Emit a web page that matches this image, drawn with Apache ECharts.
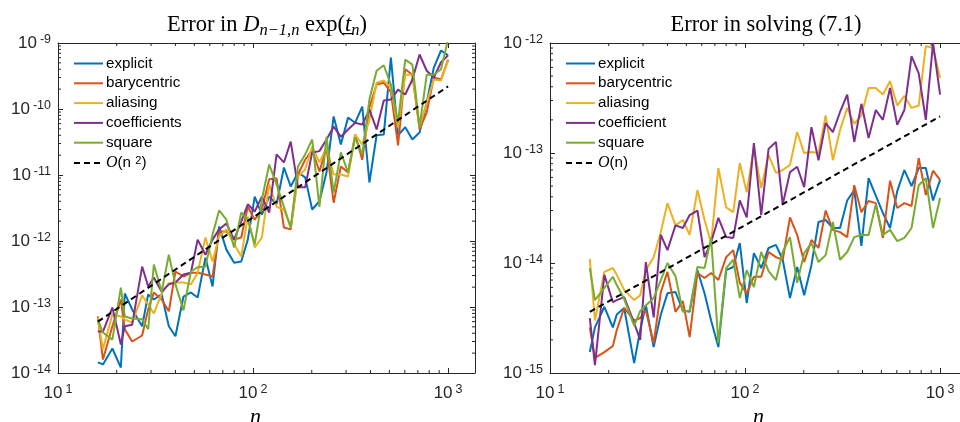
<!DOCTYPE html>
<html>
<head>
<meta charset="utf-8">
<script src="https://cdn.jsdelivr.net/npm/echarts@6/dist/echarts.min.js"></script>
<style>
  html, body { margin: 0; padding: 0; background: #fff; }
  #chart { width: 960px; height: 422px; }
</style>
</head>
<body>
<div id="chart"></div>
<script>
// 横轴 n
const nValues = [16, 17, 19, 21, 22, 24, 27, 29, 31, 34, 37, 40, 44, 48, 52, 57, 62, 67, 73, 80,
    87, 94, 102, 111, 121, 132, 144, 156, 170, 185, 201, 219, 238, 259, 282, 307, 334, 363, 395, 430,
    468, 509, 554, 603, 656, 714, 777, 845, 920, 1000];

// 左图: Error in D exp(t)
const explicitL = [1.45e-14, 1.35e-14, 2.35e-14, 1.21e-14, 1.6e-13, 9.2e-14, 5.1e-14, 1.55e-13, 1.3e-13, 1.55e-13,
    5.1e-14, 3.6e-14, 1.44e-13, 1.66e-13, 1.39e-13, 5.6e-13, 2.05e-13, 1.66e-12, 7.4e-13, 4.7e-13,
    4.9e-13, 1.05e-12, 4.7e-12, 2.5e-12, 4.7e-12, 3.6e-12, 1.3e-11, 6.7e-12, 1.09e-11, 9.2e-12,
    3.0e-12, 4.0e-12, 1.09e-11, 7.7e-11, 2.9e-11, 7.4e-11, 6.2e-11, 1.09e-10, 7.7e-12, 4.0e-11,
    4.1e-11, 6.0e-10, 4.0e-11, 5.3e-11, 3.45e-11, 4.4e-11, 1.25e-10, 4.25e-10, 7.7e-10, 6.5e-10];
const barycentricL = [7.2e-14, 1.6e-14, 5.1e-14, 1.3e-13, 4.6e-14, 3.0e-14, 3.7e-14, 9.2e-14, 1.66e-13, 1.3e-13,
    8.6e-14, 3.45e-13, 2.9e-13, 3.3e-13, 3.3e-13, 3.1e-13, 2.9e-13, 1.39e-12, 1.39e-12, 1.05e-12,
    1.13e-12, 3.3e-12, 2.1e-12, 3.0e-12, 8.6e-12, 8.9e-12, 1.6e-12, 1.5e-12, 1.02e-11, 1.7e-11,
    2.4e-11, 1.13e-11, 2.6e-11, 3.8e-12, 1.35e-11, 1.09e-11, 4.1e-11, 1.7e-11, 1.05e-10, 2.35e-10,
    2.5e-10, 1.8e-10, 2.8e-11, 4.0e-10, 3.3e-10, 4.9e-11, 8.9e-11, 3.0e-10, 2.8e-10, 5.6e-10];
const aliasingL = [6.9e-14, 2.3e-14, 7.7e-14, 7.2e-14, 6.5e-14, 5.8e-14, 1.5e-13, 1.09e-13, 8.0e-14, 1.6e-13,
    2.3e-13, 2.35e-13, 2.35e-13, 2.2e-13, 3.3e-13, 1.13e-12, 4.9e-13, 1.17e-12, 1.5e-12, 8.9e-13,
    5.8e-13, 2.35e-12, 8.0e-13, 1.13e-12, 7.2e-12, 3.3e-12, 3.0e-12, 1.6e-12, 9.5e-12, 1.21e-11,
    2.7e-11, 1.55e-11, 2.6e-11, 1.02e-11, 1.02e-11, 9.5e-12, 4.1e-11, 2.9e-11, 6.9e-11, 2.5e-10,
    2.7e-10, 2.1e-10, 5.3e-11, 3.3e-10, 3.3e-10, 5.3e-11, 1.25e-10, 2.8e-10, 2.7e-10, 5.4e-10];
const coefficientsL = [4.25e-14, 4.25e-14, 9.8e-14, 2.7e-14, 5.1e-14, 5.4e-14, 4.1e-13, 2.05e-13, 2.8e-13, 1.7e-13,
    2.2e-13, 2.35e-13, 3.1e-13, 3.3e-13, 1.05e-12, 6.2e-13, 1.05e-12, 1.5e-12, 1.84e-12, 1.05e-12,
    1.97e-12, 3.6e-12, 2.8e-12, 4.7e-12, 2.7e-12, 2.05e-11, 1.55e-11, 3.2e-11, 6.5e-12, 6.5e-12,
    2.2e-11, 2.3e-11, 3.45e-11, 5.4e-11, 3.8e-11, 4.9e-11, 6.2e-11, 5.8e-11, 9.8e-11, 4.9e-11,
    1.35e-10, 1.39e-10, 1.97e-10, 1.66e-10, 2.8e-10, 6.7e-10, 3.8e-10, 3.0e-10, 5.1e-10, 6.5e-10];
const squareL = [6.5e-14, 4.1e-14, 3.2e-14, 1.97e-13, 7.2e-14, 6.7e-14, 6.5e-14, 4.6e-14, 4.4e-13, 1.7e-13,
    6.2e-13, 2.2e-13, 8.9e-14, 3.45e-13, 4.0e-13, 4.1e-13, 1.25e-12, 2.9e-12, 2.1e-12, 8.0e-13,
    2.7e-12, 2.1e-12, 8.9e-13, 4.25e-12, 1.44e-11, 7.2e-12, 3.3e-12, 1.6e-12, 1.35e-11, 2.05e-11,
    3.45e-11, 3.3e-12, 3.8e-11, 5.4e-12, 2.2e-11, 1.09e-11, 3.7e-11, 2.05e-11, 1.39e-10, 3.8e-10,
    4.6e-10, 2.35e-10, 6.2e-11, 5.6e-10, 4.7e-10, 5.3e-11, 3.3e-10, 3.3e-10, 4.0e-10, 1.13e-9];
const refL = [[16, 6.0e-14], [1000, 2.2e-10]];

// 右图: Error in solving (7.1)
const explicitR = [1.55e-15, 2.6e-15, 4.0e-15, 2.6e-15, 3.4e-15, 3.9e-15, 1.23e-15, 2.46e-15, 4.15e-15, 1.72e-15,
    3.4e-15, 5.3e-15, 5.45e-15, 3.7e-15, 3.6e-15, 8.6e-15, 5.3e-15, 3.0e-15, 1.72e-15, 8.6e-15,
    9.2e-15, 1.52e-14, 4.33e-15, 1.23e-14, 9.0e-15, 1.37e-14, 1.46e-14, 1.07e-14, 4.8e-15, 9.2e-15,
    5.1e-15, 9.6e-15, 2.36e-14, 2.46e-14, 2.08e-14, 2.08e-14, 3.7e-14, 4.6e-14, 1.43e-14, 5.9e-14,
    4.1e-14, 2.85e-14, 2.08e-14, 4.5e-14, 7.0e-14, 5.0e-14, 7.3e-14, 7.3e-14, 3.7e-14, 5.7e-14];
const barycentricR = [2.6e-15, 1.37e-15, 1.55e-15, 1.76e-15, 2.46e-15, 3.9e-15, 3.0e-15, 3.16e-15, 3.7e-15, 1.87e-15,
    5.45e-15, 8.3e-15, 3.6e-15, 4.5e-15, 2.12e-15, 8.1e-15, 7.3e-15, 8.1e-15, 7.0e-15, 1.13e-14,
    1.31e-14, 6.6e-15, 5.3e-15, 7.5e-15, 7.5e-15, 1.26e-14, 1.13e-14, 1.07e-14, 2.6e-14, 1.8e-14,
    1.02e-14, 1.62e-14, 1.37e-14, 3.0e-14, 2.0e-14, 1.91e-14, 1.72e-14, 5.1e-14, 2.9e-14, 3.66e-14,
    3.5e-14, 1.69e-14, 5.6e-14, 3.16e-14, 3.5e-14, 3.3e-14, 9.0e-14, 4.15e-14, 6.9e-14, 5.7e-14];
const aliasingR = [1.09e-14, 3.0e-15, 8.3e-15, 9.0e-15, 7.8e-15, 5.7e-15, 4.6e-15, 5.1e-15, 8.6e-15, 1.13e-14,
    1.91e-14, 3.5e-14, 2.2e-14, 2.46e-14, 1.8e-14, 4.6e-14, 2.46e-14, 1.52e-14, 7.3e-14, 3.2e-14,
    2.9e-14, 8.1e-14, 4.4e-14, 1.13e-13, 4.8e-14, 9.6e-14, 6.6e-14, 7.0e-14, 7.8e-14, 1.55e-13,
    1.0e-13, 1.02e-13, 1.0e-13, 2.2e-13, 8.6e-14, 1.62e-13, 2.57e-13, 1.84e-13, 2.2e-13, 3.9e-13,
    3.9e-13, 3.4e-13, 4.5e-13, 2.7e-13, 3.3e-13, 2.57e-13, 2.7e-13, 9.4e-13, 9.0e-13, 4.8e-13];
const coefficientR = [3.16e-15, 1.18e-15, 7.8e-15, 4.4e-15, 4.6e-15, 4.9e-15, 2.85e-15, 2.0e-15, 1.02e-14, 3.2e-15,
    1.8e-14, 1.31e-14, 2.2e-14, 2.08e-14, 2.73e-14, 3.0e-14, 1.13e-14, 1.55e-14, 2.57e-14, 1.72e-14,
    1.69e-14, 3.7e-14, 2.6e-14, 1.23e-13, 2.73e-14, 1.09e-13, 1.26e-13, 3.4e-14, 6.7e-14, 7.5e-14,
    4.9e-14, 1.72e-13, 8.6e-14, 1.87e-13, 1.55e-13, 2.36e-13, 3.4e-13, 1.26e-13, 2.8e-13, 1.37e-13,
    2.46e-13, 2.0e-13, 3.9e-13, 1.8e-13, 2.46e-13, 7.6e-13, 5.3e-13, 2.0e-13, 1.0e-12, 3.4e-13];
const squareR = [9.0e-15, 4.6e-15, 5.9e-15, 7.5e-15, 6.3e-15, 4.7e-15, 2.7e-15, 3.66e-15, 4.1e-15, 4.8e-15,
    7.0e-15, 1.0e-14, 7.6e-15, 3.6e-15, 3.7e-15, 9.2e-15, 9.0e-15, 1.69e-14, 1.87e-15, 9.0e-15,
    1.07e-14, 4.8e-15, 8.6e-15, 6.05e-15, 1.26e-14, 8.45e-15, 7.0e-15, 1.26e-14, 1.72e-14, 6.6e-15,
    1.23e-14, 1.52e-14, 1.02e-14, 1.18e-14, 2.36e-14, 1.07e-14, 1.26e-14, 1.72e-14, 1.8e-14, 1.8e-14,
    3.4e-14, 1.8e-14, 2.0e-14, 1.58e-14, 1.69e-14, 2.08e-14, 5.1e-14, 5.9e-14, 2.08e-14, 3.9e-14];
const refR = [[16, 3.6e-15], [1000, 2.15e-13]];

// 坐标范围
const xRange = [10, 1374];
const yRangeL = [1e-14, 1e-9];
const yRangeR = [1e-15, 1e-12];

const colors = ['#0072bd', '#d95319', '#edb120', '#7e2f8e', '#77ac30'];
const axisColor = '#262626';
const sansFont = 'Liberation Sans';
const serifFont = 'Liberation Serif';

document.addEventListener('DOMContentLoaded', function () {
    const chartDom = document.getElementById('chart');
    const myChart = echarts.init(chartDom, null, { renderer: 'canvas' });

    // 10^k 形式的刻度标签
    function powLabel(v) {
        const e = Math.log10(v);
        if (Math.abs(e - Math.round(e)) > 1e-6) return '';
        return '{b|10}{s|' + Math.round(e) + '}';
    }
    const labelRich = {
        b: { fontFamily: sansFont, fontSize: 17, color: '#262626', lineHeight: 20 },
        s: { fontFamily: sansFont, fontSize: 12.5, color: '#262626', lineHeight: 12, verticalAlign: 'top', padding: [0, 0, 0, 3] }
    };

    function mainX(grid, namePad) {
        return {
            gridIndex: grid, type: 'log', logBase: 10, min: xRange[0], max: xRange[1], position: 'bottom',
            axisLine: { show: true, onZero: false, lineStyle: { color: axisColor, width: 1 } },
            axisTick: { show: true, inside: true, length: 5, lineStyle: { color: axisColor } },
            axisLabel: { formatter: powLabel, rich: labelRich, margin: 10, showMinLabel: true, showMaxLabel: true },
            splitLine: { show: false },
            name: 'n', nameLocation: 'middle', nameGap: 30,
            nameTextStyle: { fontFamily: serifFont, fontStyle: 'italic', fontSize: 22, color: '#000', padding: namePad }
        };
    }
    function sideX(grid) {
        return {
            gridIndex: grid, type: 'log', logBase: 10, min: xRange[0], max: xRange[1], position: 'top',
            axisLine: { show: true, onZero: false, lineStyle: { color: axisColor, width: 1 } },
            axisTick: { show: true, inside: true, length: 5, lineStyle: { color: axisColor } },
            axisLabel: { show: false }, splitLine: { show: false }
        };
    }
    function mainY(grid, range) {
        return {
            gridIndex: grid, type: 'log', logBase: 10, min: range[0], max: range[1], position: 'left',
            axisLine: { show: true, onZero: false, lineStyle: { color: axisColor, width: 1 } },
            axisTick: { show: true, inside: true, length: 5, lineStyle: { color: axisColor } },
            axisLabel: { formatter: powLabel, rich: labelRich, margin: 7, showMinLabel: true, showMaxLabel: true },
            splitLine: { show: false }
        };
    }
    function sideY(grid, range) {
        return {
            gridIndex: grid, type: 'log', logBase: 10, min: range[0], max: range[1], position: 'right',
            axisLine: { show: true, onZero: false, lineStyle: { color: axisColor, width: 1 } },
            axisTick: { show: true, inside: true, length: 5, lineStyle: { color: axisColor } },
            axisLabel: { show: false }, splitLine: { show: false }
        };
    }

    // 次刻度 2..9 x 10^k
    function minorValues(lo, hi) {
        const out = [];
        for (let e = Math.floor(Math.log10(lo)); e <= Math.ceil(Math.log10(hi)); e++) {
            for (let m = 2; m <= 9; m++) {
                const v = m * Math.pow(10, e);
                if (v > lo * 1.0001 && v < hi * 0.9999) out.push(v);
            }
        }
        return out;
    }
    function minorTickSeries(axisIdx, yRange) {
        const data = [];
        minorValues(xRange[0], xRange[1]).forEach(v => data.push([v, yRange[0], 0]));
        minorValues(yRange[0], yRange[1]).forEach(v => data.push([xRange[0], v, 1]));
        return {
            type: 'custom', xAxisIndex: axisIdx, yAxisIndex: axisIdx, silent: true, clip: false, z: 1,
            data: data,
            renderItem: function (params, api) {
                const st = { stroke: axisColor, lineWidth: 1 };
                if (api.value(2) === 0) {
                    const b = api.coord([api.value(0), yRange[0]]);
                    const t = api.coord([api.value(0), yRange[1]]);
                    return {
                        type: 'group', children: [
                            { type: 'line', shape: { x1: b[0], y1: b[1], x2: b[0], y2: b[1] - 3 }, style: st },
                            { type: 'line', shape: { x1: t[0], y1: t[1], x2: t[0], y2: t[1] + 3 }, style: st }
                        ]
                    };
                }
                const l = api.coord([xRange[0], api.value(1)]);
                const r = api.coord([xRange[1], api.value(1)]);
                return {
                    type: 'group', children: [
                        { type: 'line', shape: { x1: l[0], y1: l[1], x2: l[0] + 3, y2: l[1] }, style: st },
                        { type: 'line', shape: { x1: r[0], y1: r[1], x2: r[0] - 3, y2: r[1] }, style: st }
                    ]
                };
            }
        };
    }

    function lineSeries(name, vals, color, axisIdx) {
        return {
            name: name, type: 'line', xAxisIndex: axisIdx, yAxisIndex: axisIdx,
            data: nValues.map((n, i) => [n, vals[i]]),
            symbol: 'none', showSymbol: false, z: 3,
            lineStyle: { color: color, width: 2 }, itemStyle: { color: color }
        };
    }
    function refSeries(name, pts, axisIdx) {
        return {
            name: name, type: 'line', xAxisIndex: axisIdx, yAxisIndex: axisIdx, data: pts,
            symbol: 'none', showSymbol: false, z: 4,
            lineStyle: { color: '#000', width: 2, type: [6, 4] }, itemStyle: { color: '#000' }
        };
    }

    const legendRich = {
        cal: { fontFamily: serifFont, fontStyle: 'italic', fontSize: 16, color: '#000' },
        sup: { fontFamily: sansFont, fontSize: 11, color: '#000', verticalAlign: 'top', lineHeight: 10 }
    };
    function legendFmt(name) {
        if (name === 'O(n^2)') return '{cal|O}(n {sup|2})';
        if (name === 'O(n)') return '{cal|O}(n)';
        return name;
    }
    function makeLegend(left, names) {
        return {
            orient: 'vertical', left: left, top: 51, itemWidth: 29, itemHeight: 14, itemGap: 4.8,
            selectedMode: false, data: names, formatter: legendFmt,
            itemStyle: { opacity: 0 },
            textStyle: { fontFamily: sansFont, fontSize: 15.2, color: '#000', padding: [0, 0, 0, -2], rich: legendRich }
        };
    }

    const titleRich = {
        r: { fontFamily: serifFont, fontSize: 22.5, fontWeight: 'normal', color: '#000', lineHeight: 28 },
        i: { fontFamily: serifFont, fontSize: 22.5, fontWeight: 'normal', fontStyle: 'italic', color: '#000', lineHeight: 28 },
        sub: { fontFamily: serifFont, fontSize: 16.5, fontWeight: 'normal', fontStyle: 'italic', color: '#000', lineHeight: 15, verticalAlign: 'bottom' }
    };

    const option = {
        backgroundColor: '#fff',
        animation: false,
        title: [
            {
                text: '{r|Error in }{i|D}{sub|n\u22121,n}{r| exp(}{i|t\u0332}{sub|n}{r|)}',
                left: 262, top: 6, textAlign: 'center',
                textStyle: { fontWeight: 'normal', rich: titleRich }
            },
            {
                text: '{r|Error in solving (7.1)}',
                left: 761, top: 6, textAlign: 'center',
                textStyle: { fontWeight: 'normal', rich: titleRich }
            }
        ],
        legend: [
            makeLegend(68, ['explicit', 'barycentric', 'aliasing', 'coefficients', 'square', 'O(n^2)']),
            makeLegend(560, ['explicit', 'barycentric', 'aliasing', 'coefficient', 'square', 'O(n)'])
        ],
        grid: [
            { left: 58, top: 43, width: 417, height: 330, containLabel: false, outerBoundsMode: 'none' },
            { left: 550, top: 43, width: 417, height: 330, containLabel: false, outerBoundsMode: 'none' }
        ],
        xAxis: [mainX(0, [0, 22, 0, 0]), mainX(1, [0, 0, 0, 0]), sideX(0), sideX(1)],
        yAxis: [mainY(0, yRangeL), mainY(1, yRangeR), sideY(0, yRangeL), sideY(1, yRangeR)],
        series: [
            lineSeries('explicit', explicitL, colors[0], 0),
            lineSeries('barycentric', barycentricL, colors[1], 0),
            lineSeries('aliasing', aliasingL, colors[2], 0),
            lineSeries('coefficients', coefficientsL, colors[3], 0),
            lineSeries('square', squareL, colors[4], 0),
            refSeries('O(n^2)', refL, 0),
            lineSeries('explicit', explicitR, colors[0], 1),
            lineSeries('barycentric', barycentricR, colors[1], 1),
            lineSeries('aliasing', aliasingR, colors[2], 1),
            lineSeries('coefficient', coefficientR, colors[3], 1),
            lineSeries('square', squareR, colors[4], 1),
            refSeries('O(n)', refR, 1),
            minorTickSeries(0, yRangeL),
            minorTickSeries(1, yRangeR)
        ]
    };

    myChart.setOption(option);

    window.addEventListener('resize', function () {
        myChart.resize();
    });
});
</script>
</body>
</html>
